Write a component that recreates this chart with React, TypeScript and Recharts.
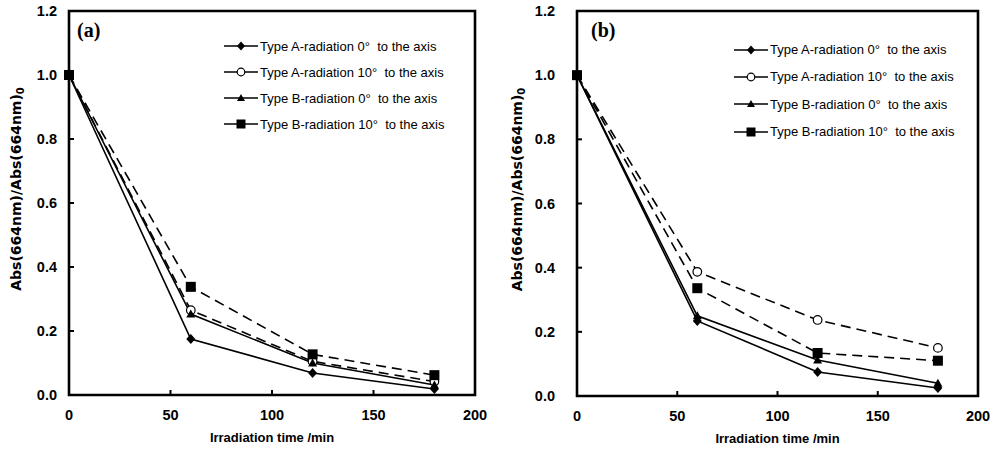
import { LineChart, Line, XAxis, YAxis, ReferenceArea, Legend } from 'recharts'

// irradiation time (min)
const times = [0, 60, 120, 180]

// panel (a)
const aTypeA0 = [1.0, 0.175, 0.069, 0.019]
const aTypeA10 = [1.0, 0.265, 0.105, 0.042]
const aTypeB0 = [1.0, 0.253, 0.1, 0.031]
const aTypeB10 = [1.0, 0.338, 0.127, 0.062]

// panel (b)
const bTypeA0 = [1.0, 0.234, 0.075, 0.025]
const bTypeA10 = [1.0, 0.387, 0.237, 0.15]
const bTypeB0 = [1.0, 0.25, 0.112, 0.04]
const bTypeB10 = [1.0, 0.336, 0.134, 0.11]

const xTicks = [0, 50, 100, 150, 200]
const yTicks = [0, 0.2, 0.4, 0.6, 0.8, 1.0, 1.2]

const seriesKeys = ['a0', 'a10', 'b0', 'b10']
const seriesNames = [
  'Type A-radiation 0°  to the axis',
  'Type A-radiation 10°  to the axis',
  'Type B-radiation 0°  to the axis',
  'Type B-radiation 10°  to the axis',
]
const seriesShapes = ['diamond', 'circle', 'triangle', 'square']
const seriesDashed = [false, true, false, true]

const buildRows = (a0: number[], a10: number[], b0: number[], b10: number[]) =>
  times.map((t, i) => ({ t, a0: a0[i], a10: a10[i], b0: b0[i], b10: b10[i] }))

const panelA = buildRows(aTypeA0, aTypeA10, aTypeB0, aTypeB10)
const panelB = buildRows(bTypeA0, bTypeA10, bTypeB0, bTypeB10)

// ── markers ────────────────────────────────────────────────────────────────
function Marker({ cx, cy, shape, s = 9 }: { cx: number; cy: number; shape: string; s?: number }) {
  const h = s / 2
  if (shape === 'diamond')
    return <polygon points={`${cx},${cy - h - 0.5} ${cx + h},${cy} ${cx},${cy + h + 0.5} ${cx - h},${cy}`} fill="#000" />
  if (shape === 'circle')
    return <circle cx={cx} cy={cy} r={h - 0.2} fill="#fff" stroke="#000" strokeWidth={1.2} />
  if (shape === 'triangle')
    return <polygon points={`${cx},${cy - h} ${cx + h},${cy + h - 1} ${cx - h},${cy + h - 1}`} fill="#000" />
  return <rect x={cx - h - 0.5} y={cy - h - 0.5} width={s + 1} height={s + 1} fill="#000" />
}

const makeDot = (shape: string) => (props: any) =>
  props.cx == null ? <g key={`${shape}-${props.index}`} /> : (
    <Marker key={`${shape}-${props.index}`} cx={props.cx} cy={props.cy} shape={shape} />
  )

// ── legend ────────────────────────────────────────────────────────────────
function LegendBox({ rowHeight }: { rowHeight: number }) {
  return (
    <div style={{ fontFamily: "'Liberation Sans', Arial, sans-serif", fontSize: 13, color: '#000' }}>
      {seriesNames.map((name, i) => (
        <div key={name} style={{ display: 'flex', alignItems: 'center', height: rowHeight }}>
          <svg width={35} height={12} style={{ display: 'block' }}>
            <line x1={0} y1={6} x2={34} y2={6} stroke="#000" strokeWidth={1.6} />
            <Marker cx={17} cy={6} shape={seriesShapes[i]} s={8} />
          </svg>
          <span style={{ whiteSpace: 'pre', marginLeft: 1 }}>{name}</span>
        </div>
      ))}
    </div>
  )
}

// ── axis labels ───────────────────────────────────────────────────────────
function YTitle({ viewBox, cxOff }: any) {
  const cx = viewBox.x + cxOff
  const cy = viewBox.y + viewBox.height / 2 - 14
  return (
    <text
      x={cx}
      y={cy}
      transform={`rotate(-90 ${cx} ${cy})`}
      textAnchor="middle"
      dominantBaseline="central"
      fontFamily="'DejaVu Sans', sans-serif"
      fontWeight="bold"
      fontSize={14}
      fill="#000"
    >
      Abs(664nm)/Abs(664nm)
      <tspan dy={4} fontSize={10}>0</tspan>
    </text>
  )
}

function XTitle({ viewBox }: any) {
  return (
    <text
      x={viewBox.x + viewBox.width / 2}
      y={viewBox.y + 42}
      textAnchor="middle"
      dominantBaseline="central"
      fontFamily="'Liberation Sans', Arial, sans-serif"
      fontWeight="bold"
      fontSize={13}
      fill="#000"
    >
      Irradiation time /min
    </text>
  )
}

const tickStyle = { fontFamily: "'Liberation Sans', Arial, sans-serif", fontWeight: 'bold', fontSize: 14.5, fill: '#000' }

interface PanelProps {
  left: number
  data: any[]
  tag: string
  yAxisWidth: number
  right: number
  bottom: number
  yTickMargin: number
  yTitleX: number
  legendLeft: number
  legendTop: number
  legendRow: number
  tagLeft: number
}

function Panel(p: PanelProps) {
  return (
    <div style={{ position: 'absolute', left: p.left, top: 0, width: 497, height: 450 }}>
      <LineChart width={497} height={450} data={p.data} margin={{ top: 11, right: p.right, bottom: p.bottom, left: 0 }}>
        <ReferenceArea x1={0} x2={200} y1={0} y2={1.2} fill="none" stroke="#000" strokeWidth={2.6} ifOverflow="visible" />
        <XAxis
          type="number"
          dataKey="t"
          domain={[0, 200]}
          ticks={xTicks}
          height={30}
          axisLine={false}
          tickSize={-5}
          tickMargin={20}
          tickLine={{ stroke: '#000', strokeWidth: 2 }}
          tick={tickStyle}
          label={<XTitle />}
        />
        <YAxis
          type="number"
          domain={[0, 1.2]}
          ticks={yTicks}
          width={p.yAxisWidth}
          axisLine={false}
          tickSize={-5}
          tickMargin={p.yTickMargin}
          tickLine={{ stroke: '#000', strokeWidth: 2 }}
          tick={tickStyle}
          tickFormatter={(v: number) => v.toFixed(1)}
          label={<YTitle cxOff={p.yTitleX} />}
        />
        <Legend
          layout="vertical"
          align="center"
          verticalAlign="middle"
          content={() => <LegendBox rowHeight={p.legendRow} />}
          wrapperStyle={{ left: p.legendLeft, top: p.legendTop, width: 270 }}
        />
        {seriesKeys.map((k, i) => (
          <Line
            key={k}
            dataKey={k}
            name={seriesNames[i]}
            stroke="#000"
            strokeWidth={1.6}
            strokeDasharray={seriesDashed[i] ? '10 6' : undefined}
            dot={makeDot(seriesShapes[i])}
            activeDot={false}
            isAnimationActive={false}
          />
        ))}
      </LineChart>
      <div
        style={{
          position: 'absolute',
          left: p.tagLeft,
          top: 18,
          fontFamily: "'Liberation Serif', 'Times New Roman', serif",
          fontWeight: 'bold',
          fontSize: 20,
          lineHeight: '24px',
        }}
      >
        {p.tag}
      </div>
    </div>
  )
}

export default function App() {
  return (
    <div style={{ position: 'absolute', left: 0, top: 0, width: 994, height: 450, background: '#fff' }}>
      <Panel
        left={0}
        data={panelA}
        tag="(a)"
        yAxisWidth={69}
        right={22}
        bottom={25}
        yTickMargin={17}
        yTitleX={16}
        legendLeft={224}
        legendTop={33}
        legendRow={26}
        tagLeft={77}
      />
      <Panel
        left={497}
        data={panelB}
        tag="(b)"
        yAxisWidth={80}
        right={16}
        bottom={24}
        yTickMargin={27}
        yTitleX={20}
        legendLeft={237}
        legendTop={36}
        legendRow={27.3}
        tagLeft={94}
      />
    </div>
  )
}
